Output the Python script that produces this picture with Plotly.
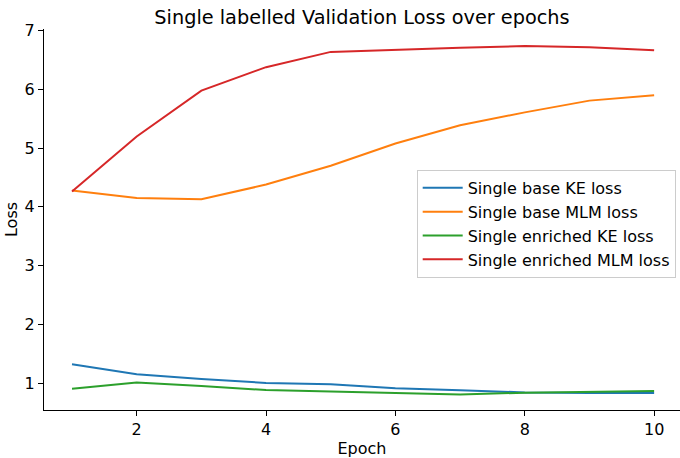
import plotly.graph_objects as go

epochs = [1, 2, 3, 4, 5, 6, 7, 8, 9, 10]
base_ke = [1.32, 1.15, 1.07, 1.00, 0.98, 0.91, 0.875, 0.84, 0.83, 0.83]
base_mlm = [4.28, 4.15, 4.13, 4.38, 4.70, 5.08, 5.39, 5.61, 5.81, 5.90]
enr_ke = [0.90, 1.01, 0.95, 0.88, 0.855, 0.83, 0.805, 0.835, 0.855, 0.865]
enr_mlm = [4.26, 5.20, 5.98, 6.38, 6.64, 6.68, 6.71, 6.74, 6.72, 6.67]

names = ["Single base KE loss", "Single base MLM loss",
         "Single enriched KE loss", "Single enriched MLM loss"]
series = [base_ke, base_mlm, enr_ke, enr_mlm]
colors = ["#1f77b4", "#ff7f0e", "#2ca02c", "#d62728"]

font = "DejaVu Sans"
fig = go.Figure()
for n, s, c in zip(names, series, colors):
    fig.add_trace(go.Scatter(x=epochs, y=s, mode="lines", name=n,
                             line=dict(color=c, width=2)))

fig.update_layout(
    width=680, height=458,
    margin=dict(l=44, r=0, t=29, b=48),
    paper_bgcolor="white", plot_bgcolor="white",
    font=dict(family=font, size=16, color="black"),
    title=dict(text="Single labelled Validation Loss over epochs",
               x=0.5, xref="paper", xanchor="center",
               y=1 - 17 / 458, yref="container", yanchor="middle",
               font=dict(family=font, size=19.3, color="black")),
    legend=dict(x=0.586, y=0.63, xanchor="left", yanchor="top",
                bgcolor="rgba(255,255,255,0.8)", bordercolor="#cccccc",
                borderwidth=1, font=dict(family=font, size=16),
                itemwidth=40, tracegroupgap=0),
    showlegend=True,
)
fig.update_xaxes(range=[0.567, 10.40], tickvals=[2, 4, 6, 8, 10],
                 showgrid=False, zeroline=False, showline=True,
                 linecolor="black", linewidth=1, ticks="outside",
                 ticklen=5, tickcolor="black",
                 tickfont=dict(family=font, size=16),
                 title=dict(text="Epoch", standoff=4,
                            font=dict(family=font, size=16)))
fig.update_yaxes(range=[0.54, 7.03], tickvals=[1, 2, 3, 4, 5, 6, 7],
                 showgrid=False, zeroline=False, showline=True,
                 linecolor="black", linewidth=1, ticks="outside",
                 ticklen=5, tickcolor="black",
                 tickfont=dict(family=font, size=16),
                 title=dict(text="Loss", standoff=3,
                            font=dict(family=font, size=16)))

fig.write_html("out.html")
